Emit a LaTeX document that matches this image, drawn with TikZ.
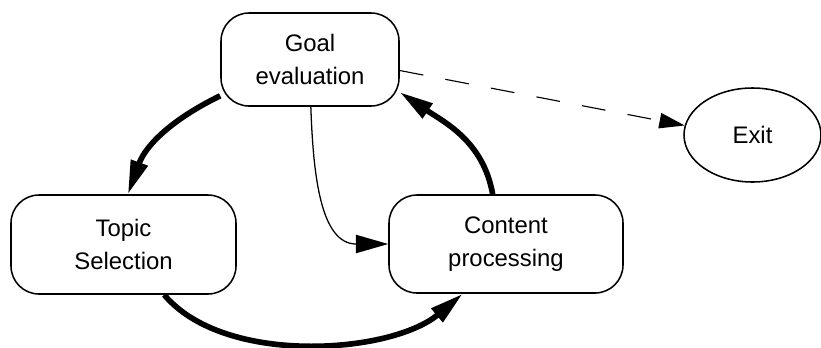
\documentclass[tikz,border=0pt]{standalone}
\usepackage{fontspec}
\setmainfont{Liberation Sans}
\usetikzlibrary{arrows.meta,shapes.geometric}

\begin{document}
\begin{tikzpicture}[
  stage/.style={draw,line width=1.1pt,rounded corners=0.7cm,align=center,
    inner sep=0pt,font=\fontsize{17}{23}\selectfont},
  flow/.style={line width=4pt,-{Triangle[length=24pt,width=12pt]}},
  jump/.style={line width=0.9pt,-{Triangle[length=23pt,width=13pt]}},
  quit/.style={line width=0.8pt,dash pattern=on 17pt off 16pt,
    -{Triangle[length=18pt,width=11pt]}}]
  \useasboundingbox (0,0) rectangle (20.525,8.675);
  % Zustaende
  \node[stage,minimum width=4.45cm,minimum height=2.325cm] (goal) at (7.75,7.1875)
    {Goal\\evaluation};
  \node[stage,minimum width=5.625cm,minimum height=2.475cm] (topic) at (3.0875,2.5625)
    {Topic\\Selection};
  \node[stage,minimum width=5.85cm,minimum height=2.45cm] (content) at (12.65,2.575)
    {Content\\processing};
  \node[draw,ellipse,line width=1.1pt,inner sep=0pt,minimum width=3.425cm,
    minimum height=2.35cm,font=\fontsize{17}{23}\selectfont] (exit) at (18.8125,5.3) {Exit};
  % Zyklus
  \draw[flow] (goal.202) to[out=206,in=70] (topic.85);
  \draw[flow] (topic.-51) to[out=-50,in=220,looseness=0.8] (content.229);
  \draw[flow] (content.105) to[out=100,in=-34] (goal.-20);
  % Abkuerzung und Ausgang
  \draw[jump] (goal.-89) to[out=-88,in=180,looseness=1.1] (content.west);
  \draw[quit] (goal.-7) -- (exit.172);
\end{tikzpicture}
\end{document}
